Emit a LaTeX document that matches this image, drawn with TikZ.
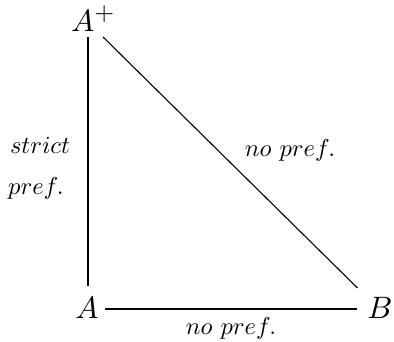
\documentclass[tikz,border=0pt]{standalone}
\usepackage{graphicx}
\begin{document}
\begin{tikzpicture}[x=1pt,y=1pt,
  vert/.style={inner sep=0pt},
  lbl/.style={inner sep=0pt},
  thick line/.style={line width=2pt},
  thin line/.style={line width=1.1pt}]
\useasboundingbox (0,0) rectangle (394,342);
\node[vert] (Ap) at (93.5,323.5) {\scalebox{3.1}{$A^{\scalebox{0.82}{$+$}}$}};
\node[vert] (A) at (87,34.5) {\scalebox{3.1}{$A$}};
\node[vert] (B) at (380,34.5) {\scalebox{3.1}{$B$}};
\coordinate (vtop) at (88,305);
\coordinate (vbot) at (88,56);
\coordinate (dtop) at (103,305);
\coordinate (dbot) at (357.5,54);
\coordinate (hl) at (105,33);
\coordinate (hr) at (357,33);
\draw[thick line] (vtop) -- (vbot);
\draw[thin line] (dtop) -- (dbot);
\draw[thick line] (hl) -- (hr);
\node[lbl] (l1) at (40,197) {\scalebox{2.45}{$strict$}};
\node[lbl] (l2) at (36,154) {\scalebox{2.45}{$pref.$}};
\node[lbl] (l3) at (290,192) {\scalebox{2.45}{$no\ pref.$}};
\node[lbl] (l4) at (231,14) {\scalebox{2.45}{$no\ pref.$}};
\end{tikzpicture}
\end{document}
